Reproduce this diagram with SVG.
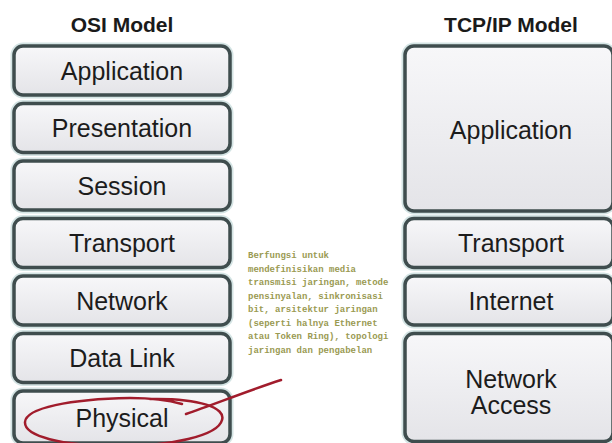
<svg xmlns="http://www.w3.org/2000/svg" width="612" height="443" viewBox="0 0 612 443">
  <defs>
    <linearGradient id="boxFill" x1="0" y1="0" x2="0" y2="1">
      <stop offset="0" stop-color="#f7f7f9"/>
      <stop offset="1" stop-color="#e4e4e8"/>
    </linearGradient>
    <style>
      .halo { fill: none; stroke: #d4e4e4; stroke-width: 7; }
      .box { fill: url(#boxFill); stroke: #3f4d4e; stroke-width: 3.5; }
      .title { font-family: "Liberation Sans", Arial, sans-serif; font-size: 21px; font-weight: bold; fill: #1a1a1a; text-anchor: middle; }
      .lbl { font-family: "Liberation Sans", Arial, sans-serif; font-size: 25px; fill: #1c1c1c; text-anchor: middle; }
      .note { font-family: "Liberation Mono", "Courier New", monospace; font-size: 9px; font-weight: bold; fill: #9a9a52; }
      .red { fill: none; stroke: #a11c2c; stroke-width: 2.5; stroke-linecap: round; }
    </style>
  </defs>
  <rect x="0" y="0" width="612" height="443" fill="#ffffff"/>

  <text class="title" x="122" y="32">OSI Model</text>
  <text class="title" x="511" y="32">TCP/IP Model</text>

  <g id="osi-application">
    <rect class="halo" x="14" y="46" width="216" height="49" rx="9"/>
    <rect class="box" x="14" y="46" width="216" height="49" rx="9"/>
    <text class="lbl" x="122" y="79.5">Application</text>
  </g>
  <g id="osi-presentation">
    <rect class="halo" x="14" y="103.5" width="216" height="49" rx="9"/>
    <rect class="box" x="14" y="103.5" width="216" height="49" rx="9"/>
    <text class="lbl" x="122" y="137">Presentation</text>
  </g>
  <g id="osi-session">
    <rect class="halo" x="14" y="161" width="216" height="49" rx="9"/>
    <rect class="box" x="14" y="161" width="216" height="49" rx="9"/>
    <text class="lbl" x="122" y="194.5">Session</text>
  </g>
  <g id="osi-transport">
    <rect class="halo" x="14" y="218.5" width="216" height="49" rx="9"/>
    <rect class="box" x="14" y="218.5" width="216" height="49" rx="9"/>
    <text class="lbl" x="122" y="252">Transport</text>
  </g>
  <g id="osi-network">
    <rect class="halo" x="14" y="276" width="216" height="49" rx="9"/>
    <rect class="box" x="14" y="276" width="216" height="49" rx="9"/>
    <text class="lbl" x="122" y="309.5">Network</text>
  </g>
  <g id="osi-datalink">
    <rect class="halo" x="14" y="333.5" width="216" height="49" rx="9"/>
    <rect class="box" x="14" y="333.5" width="216" height="49" rx="9"/>
    <text class="lbl" x="122" y="367">Data Link</text>
  </g>
  <g id="osi-physical">
    <rect class="halo" x="14" y="391" width="216" height="52" rx="9"/>
    <rect class="box" x="14" y="391" width="216" height="52" rx="9"/>
    <text class="lbl" x="122" y="427">Physical</text>
  </g>

  <g id="tcp-application">
    <rect class="halo" x="405" y="46" width="208" height="165" rx="9"/>
    <rect class="box" x="405" y="46" width="208" height="165" rx="9"/>
    <text class="lbl" x="511" y="139">Application</text>
  </g>
  <g id="tcp-transport">
    <rect class="halo" x="405" y="218.5" width="208" height="49" rx="9"/>
    <rect class="box" x="405" y="218.5" width="208" height="49" rx="9"/>
    <text class="lbl" x="511" y="252">Transport</text>
  </g>
  <g id="tcp-internet">
    <rect class="halo" x="405" y="276" width="208" height="49" rx="9"/>
    <rect class="box" x="405" y="276" width="208" height="49" rx="9"/>
    <text class="lbl" x="511" y="309.5">Internet</text>
  </g>
  <g id="tcp-network-access">
    <rect class="halo" x="405" y="333.5" width="208" height="108" rx="9"/>
    <rect class="box" x="405" y="333.5" width="208" height="108" rx="9"/>
    <text class="lbl" x="511" y="388">Network</text>
    <text class="lbl" x="511" y="414">Access</text>
  </g>

  <g id="note">
    <text class="note" x="248" y="258">Berfungsi untuk</text>
    <text class="note" x="248" y="271.5">mendefinisikan media</text>
    <text class="note" x="248" y="285">transmisi jaringan, metode</text>
    <text class="note" x="248" y="298.5">pensinyalan, sinkronisasi</text>
    <text class="note" x="248" y="312">bit, arsitektur jaringan</text>
    <text class="note" x="248" y="325.5">(seperti halnya Ethernet</text>
    <text class="note" x="248" y="339">atau Token Ring), topologi</text>
    <text class="note" x="248" y="352.5">jaringan dan pengabelan</text>
  </g>

  <g id="highlight">
    <path class="red" d="M 150 399 C 200 398 226 408 222 420 C 218 436 170 446 120 446 C 60 446 24 436 25 422 C 26 408 70 399 130 398 C 150 398 168 400 182 404"/>
  </g>

  <g id="connectors">
    <path class="red" d="M 186 414 C 215 404 250 390 281 380"/>
  </g>
</svg>
